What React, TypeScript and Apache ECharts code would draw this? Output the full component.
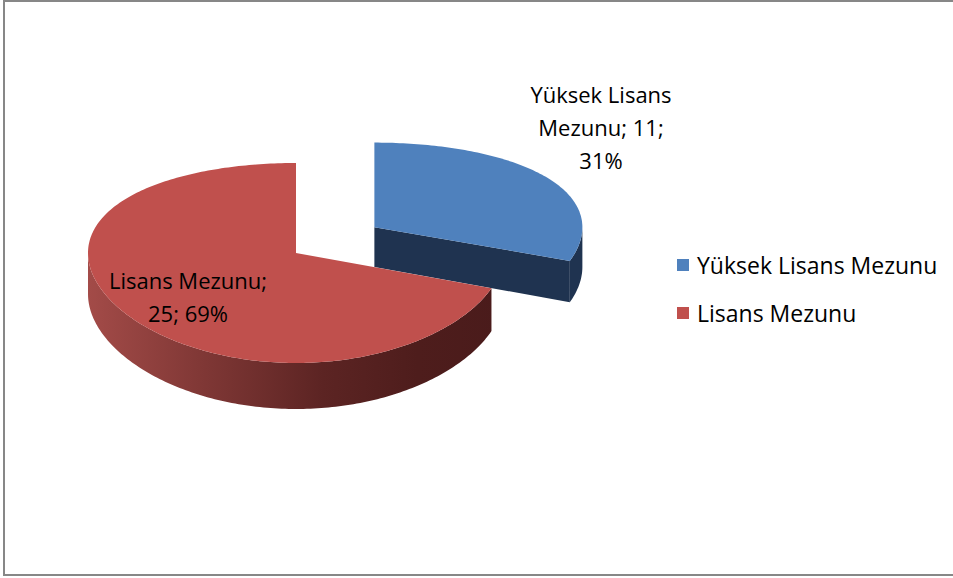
import React, { useEffect, useRef } from 'react';
import * as echarts from 'echarts';

// ---- data ----
const categories: string[] = ['Yüksek Lisans Mezunu', 'Lisans Mezunu'];
const values: number[] = [11, 25];

// ---- styles / layout (not data) ----
const topColors = ['#4f81bd', '#c0504d'];
const explodeFrac = [0.46, 0];
const labelAnchors = [[601, 127], [188, 296]];
const labelBreaks = [[2, 4], [2]]; // newline after these word counts
const FONT = '"Open Sans", "Liberation Sans", sans-serif';
const LABEL_SIZE = 22;
const LEGEND_SIZE = 23;

const RX = 208;
const CX = 296;
const CY = 253;

// perspective-ish mapping of disk depth coordinate Z (-1 back .. 1 front)
function gy(z: number): number {
  return 100 * z + 10 * z * z;
}
function depth(z: number): number {
  return 41 + 5 * z;
}

function proj(X: number, Z: number, bottom: boolean): number[] {
  return [CX + RX * X, CY + gy(Z) + (bottom ? depth(Z) : 0)];
}

function rim(ox: number, oz: number, deg: number, bottom: boolean): number[] {
  const t = (deg * Math.PI) / 180;
  return proj(ox + Math.sin(t), oz - Math.cos(t), bottom);
}

function arc(ox: number, oz: number, a0: number, a1: number, bottom: boolean): number[][] {
  const pts: number[][] = [];
  const n = Math.max(2, Math.ceil(Math.abs(a1 - a0)));
  for (let i = 0; i <= n; i++) {
    pts.push(rim(ox, oz, a0 + ((a1 - a0) * i) / n, bottom));
  }
  return pts;
}

function sideFill(idx: number): any {
  if (idx === 0) return '#1f3350';
  return new echarts.graphic.LinearGradient(
    88, 0, 500, 0,
    [
      { offset: 0, color: '#a34b48' },
      { offset: 0.3, color: '#7d3634' },
      { offset: 0.57, color: '#5c2423' },
      { offset: 0.8, color: '#4e1d1c' },
      { offset: 1, color: '#4a1b1b' },
    ],
    true
  );
}

function makeLabel(idx: number, total: number): string {
  const v = values[idx];
  const p = Math.round((v / total) * 100);
  const words = `${categories[idx]}; ${v}; ${p}%`.split(' ');
  const breaks = labelBreaks[idx];
  let out = '';
  words.forEach((w, i) => {
    if (i > 0) out += breaks.includes(i) ? '\n' : ' ';
    out += w;
  });
  return out;
}

function makeRenderItem(idx: number) {
  return (_params: any, api: any) => {
    const total = values.reduce((a, b) => a + b, 0);
    const before = values.slice(0, idx).reduce((a, b) => a + b, 0);
    const v = api.value(0) as number;
    const start = (before / total) * 360;
    const end = start + (v / total) * 360;
    const mid = (((start + end) / 2) * Math.PI) / 180;
    const e = explodeFrac[idx];
    const ox = e * Math.sin(mid);
    const oz = -e * Math.cos(mid);
    const fillSide = sideFill(idx);
    const cTop = proj(ox, oz, false);
    const cBot = proj(ox, oz, true);
    const children: any[] = [];

    const cutFace = (a: number) => ({
      type: 'polygon',
      shape: { points: [cTop, rim(ox, oz, a, false), rim(ox, oz, a, true), cBot] },
      style: { fill: fillSide },
    });
    const sStart = Math.sin((start * Math.PI) / 180);
    const sEnd = Math.sin((end * Math.PI) / 180);
    if (sStart < -0.01) children.push(cutFace(start));
    if (sEnd > 0.01) children.push(cutFace(end));

    const lo = Math.max(start, 90);
    const hi = Math.min(end, 270);
    if (hi > lo) {
      children.push({
        type: 'polygon',
        shape: { points: arc(ox, oz, lo, hi, false).concat(arc(ox, oz, hi, lo, true)) },
        style: { fill: fillSide },
      });
    }

    children.push({
      type: 'polygon',
      shape: { points: [cTop].concat(arc(ox, oz, start, end, false)) },
      style: { fill: topColors[idx] },
    });

    const [lx, ly] = labelAnchors[idx];
    children.push({
      type: 'text',
      x: lx,
      y: ly,
      style: {
        text: makeLabel(idx, total),
        fill: '#000000',
        fontSize: LABEL_SIZE,
        fontFamily: FONT,
        align: 'center',
        verticalAlign: 'middle',
        lineHeight: 33,
      },
    });

    return { type: 'group', children };
  };
}

export default function App() {
  const ref = useRef<HTMLDivElement>(null);
  useEffect(() => {
    document.body.style.margin = '0';
    if (!ref.current) return;
    const chart = echarts.init(ref.current, undefined, { renderer: 'svg' });
    const option: any = {
      animation: false,
      backgroundColor: '#ffffff',
      legend: {
        orient: 'vertical',
        left: 677,
        top: 253,
        padding: 0,
        icon: 'rect',
        itemWidth: 12,
        itemHeight: 12,
        itemGap: 24,
        data: categories,
        textStyle: {
          fontSize: LEGEND_SIZE,
          fontFamily: FONT,
          color: '#000000',
          lineHeight: 24,
          padding: [0, 0, 0, 3],
        },
      },
      graphic: [
        {
          type: 'rect',
          shape: { x: 4, y: 1, width: 970, height: 574 },
          style: { fill: 'none', stroke: '#878787', lineWidth: 2 },
          silent: true,
          z: 100,
        },
      ],
      series: categories.map((name, idx) => ({
        type: 'custom',
        name,
        coordinateSystem: 'none',
        silent: true,
        itemStyle: { color: topColors[idx] },
        data: [[values[idx]]],
        renderItem: makeRenderItem(idx),
      })),
    };
    chart.setOption(option);
    return () => chart.dispose();
  }, []);
  return <div ref={ref} style={{ width: 953, height: 578 }} />;
}
